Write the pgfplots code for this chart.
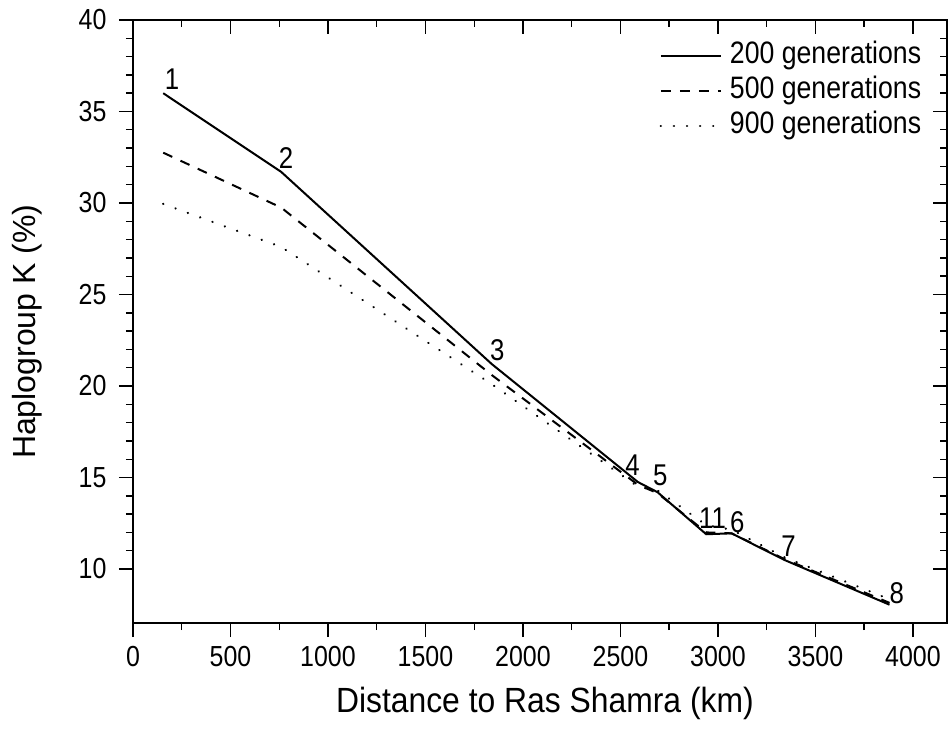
\documentclass[border=0pt]{standalone}
\usepackage{pgfplots}
\usepackage{pgfplotstable}
\usepackage{fontspec}
\setmainfont{Liberation Sans}
\newfontfamily\narrowfont[FakeStretch=0.86]{Liberation Sans}
\newfontfamily\labelfont[FakeStretch=0.91]{Liberation Sans}
\pgfplotsset{compat=1.18}

% distance (km) and haplogroup K frequency (%) for three run lengths
\pgfplotstableread{
x     y200   y500   y900
155   36.0   32.75  29.95
760   31.7   29.75  27.6
1840  21.2   20.6   20.1
2590  14.75  14.6   14.5
2690  14.2   14.15  14.3
2940  11.9   12.0   12.4
3070  11.95  11.95  12.15
3340  10.5   10.55  10.65
3880  8.05   8.15   8.35
}\datatable

\pgfplotsset{
  frame/.style={
    width=814bp, height=603bp, scale only axis,
    at={(133bp,106bp)}, anchor=south west,
    xmin=0, xmax=4175, ymin=7.05, ymax=40,
    xtick={0,500,...,4000}, ytick={10,15,...,40},
    minor x tick num=1, minor y tick num=4,
    major tick length=14bp, minor tick length=7bp,
    every tick/.style={black, line width=1.4bp},
    axis line style={line width=1.5bp},
  },
}

\begin{document}
\begin{tikzpicture}
\path[use as bounding box] (0,0) rectangle (948bp,729bp);

% top and right ticks point inward
\begin{axis}[frame,
  xtick pos=right, ytick pos=right, tick align=inside,
  xticklabels={}, yticklabels={},
]
\end{axis}

\begin{axis}[frame,
  xtick pos=left, ytick pos=left, tick align=outside,
  /pgf/number format/assume math mode=true,
  /pgf/number format/1000 sep={},
  tick label style={font=\narrowfont\fontsize{29bp}{34bp}\selectfont},
  xticklabel style={yshift=-6bp},
  yticklabel style={xshift=-9bp},
  xlabel={Distance to Ras Shamra (km)},
  ylabel={Haplogroup K (\%)},
  xlabel style={font=\labelfont\fontsize{35bp}{40bp}\selectfont,
    at={(axis description cs:0.506,-0.133)}, anchor=center},
  ylabel style={font=\fontsize{32bp}{38bp}\selectfont,
    at={(axis description cs:-0.130,0.483)}, anchor=center},
  legend cell align=left,
  legend style={draw=none, fill=none,
    at={(axis description cs:0.971,0.968)}, anchor=north east,
    font=\narrowfont\fontsize{31bp}{34bp}\selectfont,
    row sep=2bp, inner sep=0bp,
    nodes={inner sep=2bp, text height=22bp, text depth=7bp}},
  legend image code/.code={\draw[#1] (0bp,0bp) -- (60bp,0bp); \path (66bp,0bp);},
  clip=false,
]
\addplot[black, line width=2bp] table[x=x, y=y200] {\datatable};
\addlegendentry{200 generations}
\addplot[black, line width=2bp, dash pattern=on 10bp off 9bp] table[x=x, y=y500] {\datatable};
\addlegendentry{500 generations}
\addplot[black, line width=2.4bp, line cap=round, dash pattern=on 0.1bp off 13bp] table[x=x, y=y900] {\datatable};
\addlegendentry{900 generations}

% site numbers
\begin{scope}[every node/.style={font=\narrowfont\fontsize{30bp}{34bp}\selectfont, inner sep=0pt}]
\node at (axis cs:200,36.75)  {1};
\node at (axis cs:785,32.45)  {2};
\node at (axis cs:1869,21.95) {3};
\node at (axis cs:2562,15.65) {4};
\node at (axis cs:2705,15.1)  {5};
\node at (axis cs:2972,12.8)  {11};
\node at (axis cs:3100,12.55) {6};
\node at (axis cs:3362,11.25) {7};
\node at (axis cs:3917,8.7)   {8};
\end{scope}
\end{axis}
\end{tikzpicture}
\end{document}
